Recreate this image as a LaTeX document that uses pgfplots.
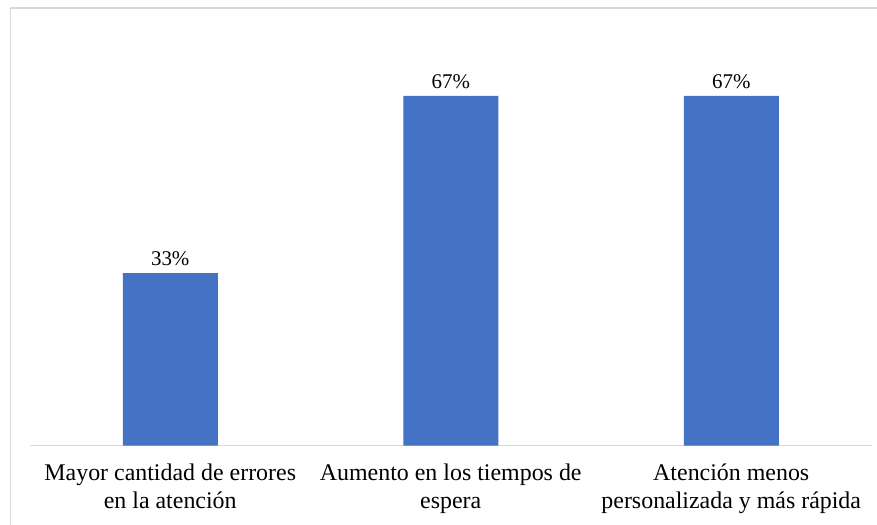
\documentclass[border=0pt]{standalone}
\usepackage{pgfplots}
\pgfplotsset{compat=1.18}
\usepackage{fontspec}
\setmainfont{Liberation Serif}

\definecolor{barblue}{HTML}{4472C4}
\definecolor{framegray}{HTML}{D9D9D9}
\definecolor{axisgray}{HTML}{D9D9D9}

\pgfplotstableread{
x  val
0  33
1  67
2  67
}\answers

\begin{document}
\begin{tikzpicture}
\useasboundingbox (0bp,0bp) rectangle (877bp,525bp);
% chart frame
\draw[color=framegray, line width=1.6bp] (10.5bp,-5bp) -- (10.5bp,517bp) -- (885bp,517bp);
\begin{axis}[
  at={(30bp,79.5bp)}, anchor=south west,
  scale only axis,
  width=841.5bp, height=417.6bp,
  xmin=-0.5, xmax=2.5, ymin=0, ymax=80,
  hide y axis,
  axis x line=bottom,
  x axis line style={-, color=axisgray, line width=1bp},
  xtick=data,
  xtick style={draw=none},
  xticklabels={Mayor cantidad de errores\\en la atención,
               Aumento en los tiempos de\\espera,
               Atención menos\\personalizada y más rápida},
  xticklabel style={align=center, font=\fontsize{24}{27.6}\selectfont, yshift=-11bp},
  ybar, bar width=95bp,
  /pgf/number format/assume math mode=true,
  nodes near coords={\pgfmathprintnumber{\pgfplotspointmeta}\%},
  nodes near coords style={font=\fontsize{21}{24}\selectfont, yshift=3.5bp},
  clip=false,
]
\addplot[fill=barblue, draw=none] table[x=x, y=val] {\answers};
\end{axis}
\end{tikzpicture}
\end{document}
